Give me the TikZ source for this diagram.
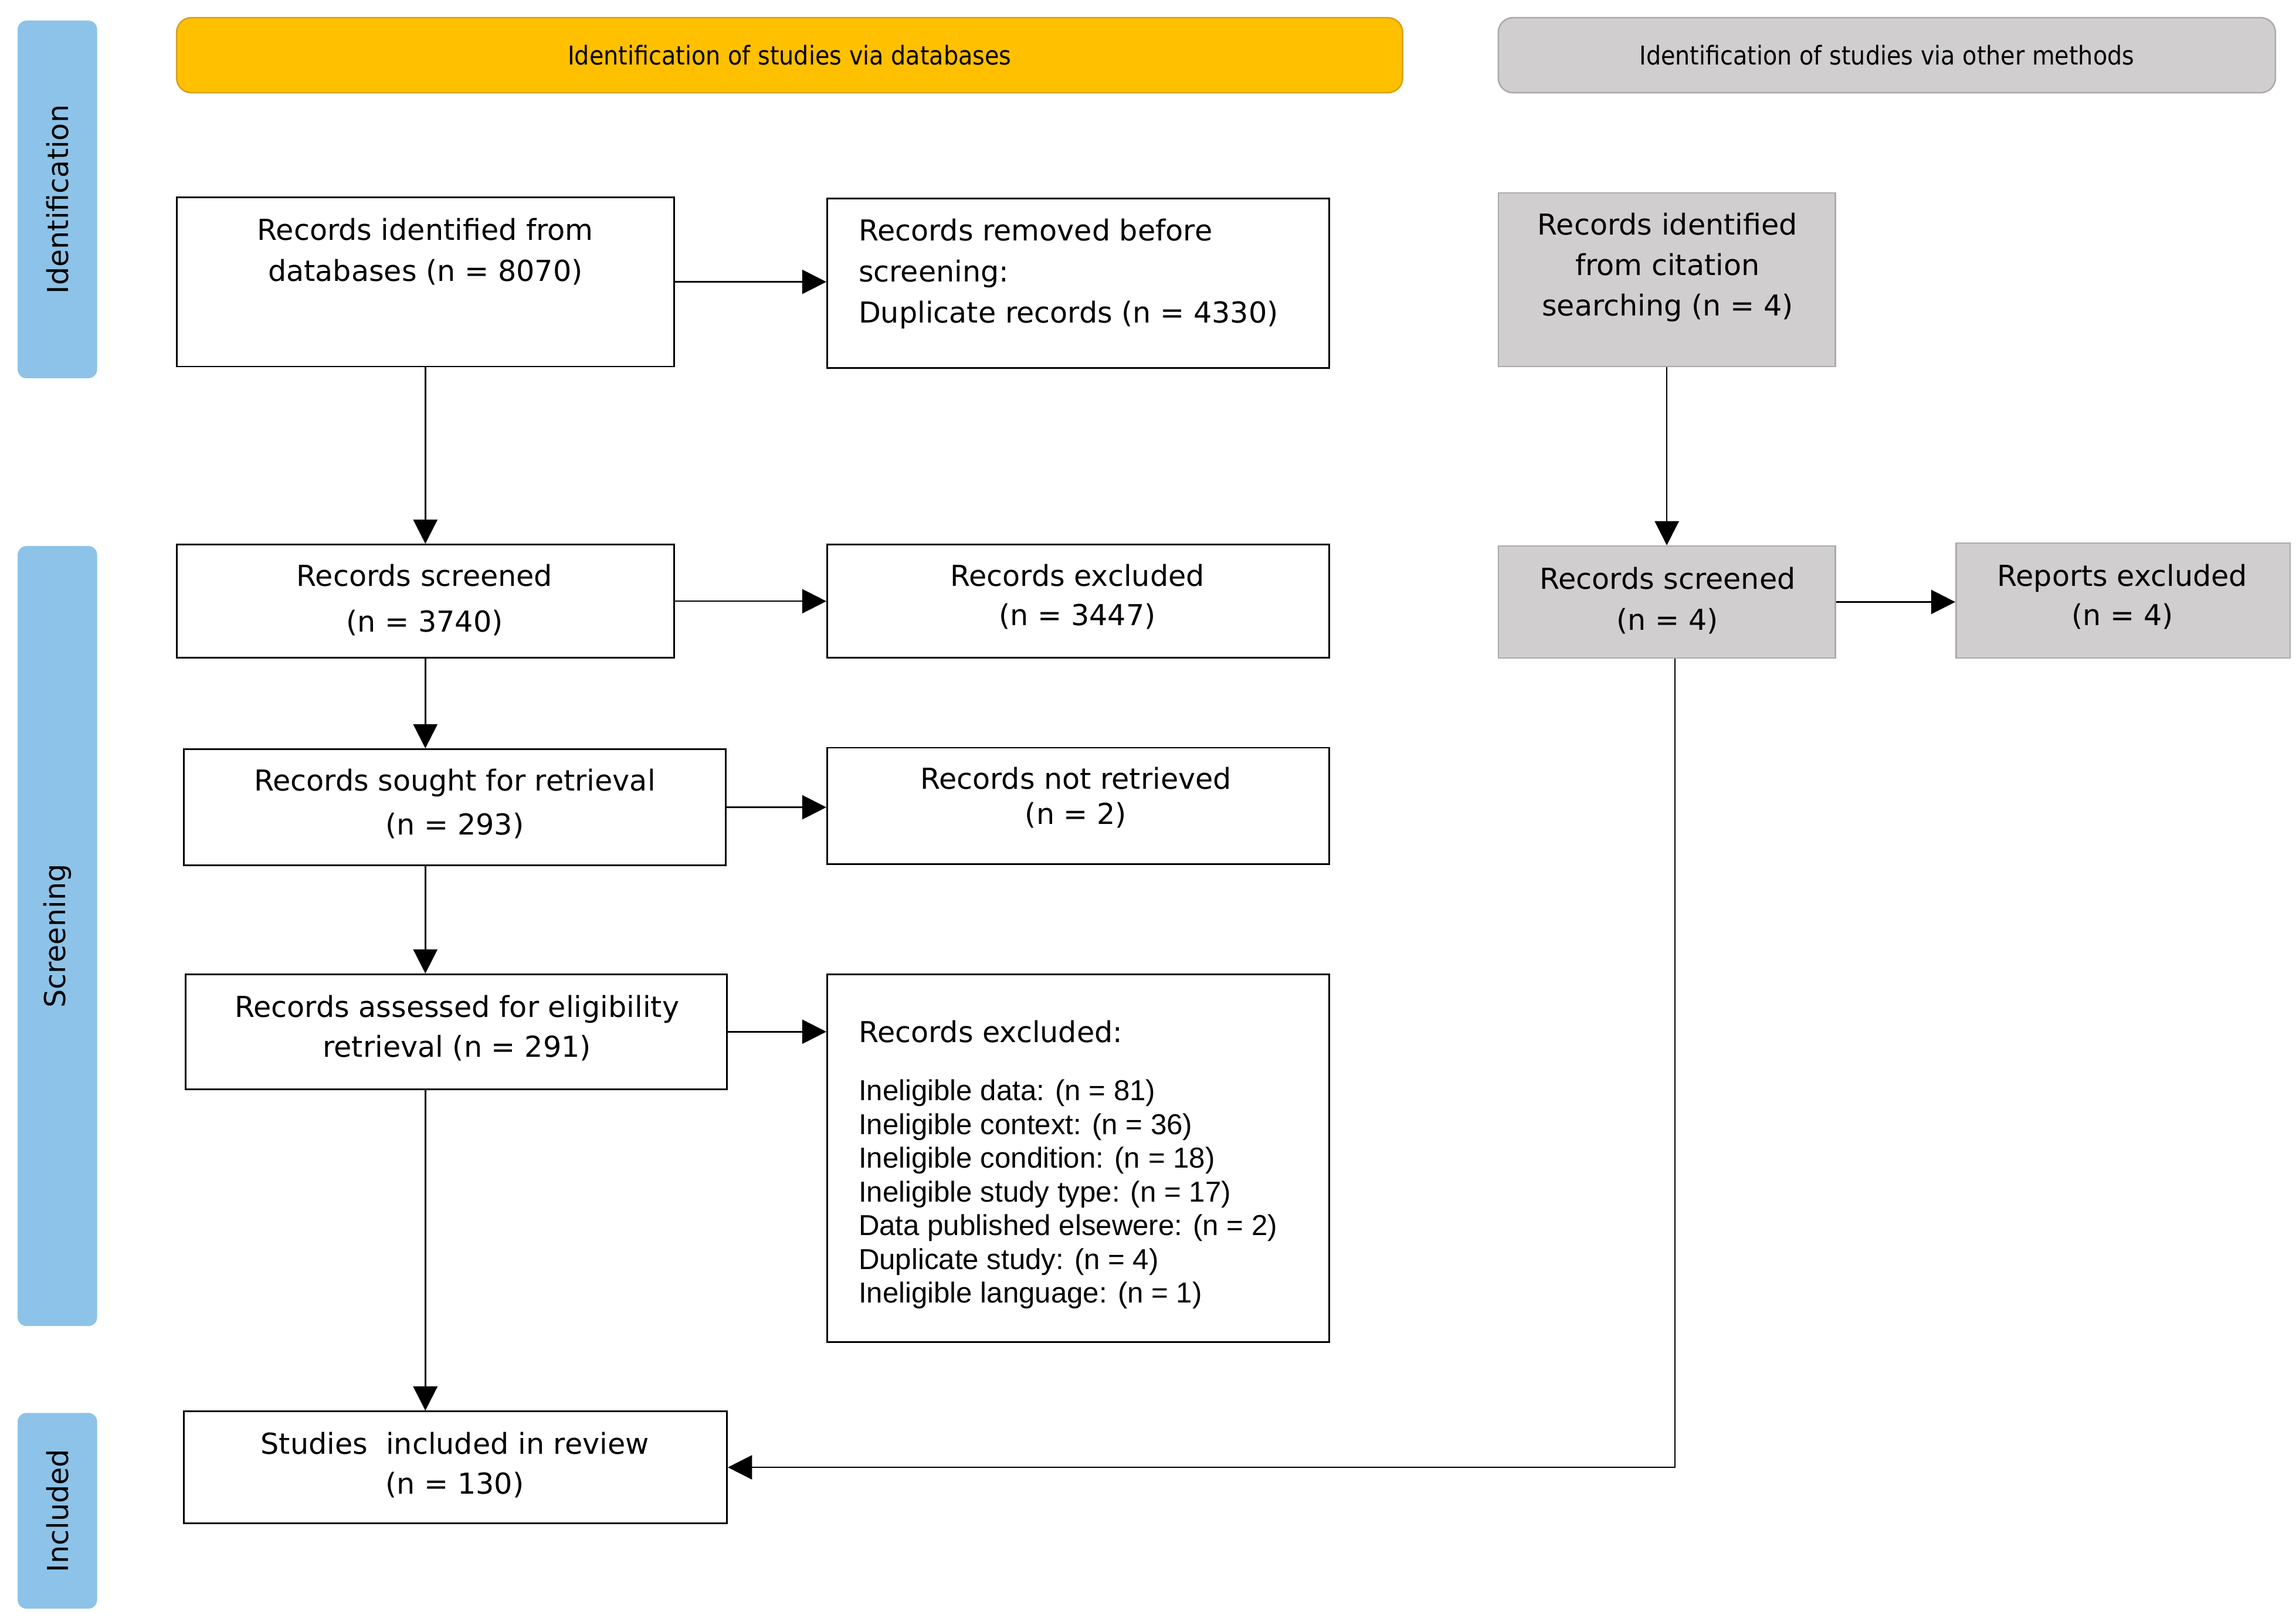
\documentclass[tikz,border=0pt]{standalone}
\usepackage{fontspec}
\setmainfont{DejaVu Sans}
\newfontfamily\arialfont{Liberation Sans}
\newfontfamily\hdrfont[FakeStretch=0.9]{DejaVu Sans}
\usetikzlibrary{fit,arrows.meta}
\definecolor{sideblue}{RGB}{141,195,232}
\definecolor{hdrorange}{RGB}{255,192,0}
\definecolor{hdrorangeline}{RGB}{214,160,30}
\definecolor{boxgray}{RGB}{208,206,206}
\definecolor{boxgrayline}{RGB}{170,170,170}
\begin{document}
\begin{tikzpicture}[x=0.5pt,y=-0.5pt,
  wbox/.style={draw=black, line width=0.55pt, fill=white, inner sep=0pt, rectangle},
  gbox/.style={draw=boxgrayline, line width=0.5pt, fill=boxgray, inner sep=0pt, rectangle},
  side/.style={fill=sideblue, rounded corners=3pt, inner sep=0pt, rectangle},
  hdrO/.style={fill=hdrorange, draw=hdrorangeline, line width=0.5pt, rounded corners=5pt, inner sep=0pt, rectangle},
  hdrG/.style={fill=boxgray, draw=boxgrayline, line width=0.5pt, rounded corners=5pt, inner sep=0pt, rectangle},
  txt/.style={inner sep=0pt, align=center, font=\fontsize{9.8pt}{#1}\selectfont},
  txt/.default=14pt,
  ltxt/.style={inner sep=0pt, align=left, anchor=west, font=\fontsize{9.8pt}{#1}\selectfont},
  ltxt/.default=14pt,
  htxt/.style={inner sep=0pt, font=\hdrfont\fontsize{8.8pt}{10pt}\selectfont},
  stxt/.style={inner sep=0pt, rotate=90, font=\fontsize{9.8pt}{11pt}\selectfont},
  arr/.style={draw=black, line width=0.5pt, -{Triangle[length=8.2pt,width=8.2pt]}},
]
\fill[white] (0,0) rectangle (1560,1099);
\useasboundingbox (0,0) rectangle (1560,1099);

% side bars
\node[side, fit={(12,14) (66,257)}] (s1) {};
\node[stxt] (s1t) at (s1.center) {Identification};
\node[side, fit={(12,371) (66,901)}] (s2) {};
\node[stxt] (s2t) at (s2.center) {Screening};
\node[side, fit={(12,960) (66,1093)}] (s3) {};
\node[stxt] (s3t) at (s3.center) {Included};

% headers
\node[hdrO, fit={(120,12) (953,63)}] (h1) {};
\node[htxt] (h1t) at (h1.center) {Identification of studies via databases};
\node[hdrG, fit={(1018,12) (1546,63)}] (h2) {};
\node[htxt] (h2t) at (h2.center) {Identification of studies via other methods};

% boxes (databases)
\node[wbox, fit={(120,134) (458,249)}] (A) {};
\node[txt] (At) at (289,171) {Records identified from\\databases (n = 8070)};
\node[wbox, fit={(562,135) (903,250)}] (B) {};
\node[ltxt] (Bt) at (583,186) {Records removed before\\screening:\\Duplicate records (n = 4330)};

\node[wbox, fit={(120,370) (458,447)}] (C) {};
\node[txt=15.5pt] (Ct) at (288.5,407.5) {Records screened\\(n = 3740)};
\node[wbox, fit={(562,370) (903,447)}] (D) {};
\node[txt=13.5pt] (Dt) at (732,405.5) {Records excluded\\(n = 3447)};

\node[wbox, fit={(125,509) (493,588)}] (E) {};
\node[txt=15pt] (Et) at (309,546) {Records sought for retrieval\\(n = 293)};
\node[wbox, fit={(562,508) (903,587)}] (F) {};
\node[txt=12pt] (Ft) at (731,542) {Records not retrieved\\(n = 2)};

\node[wbox, fit={(126,662) (494,740)}] (G) {};
\node[txt=13.5pt] (Gt) at (310.5,698.5) {Records assessed for eligibility\\retrieval (n = 291)};
\node[wbox, fit={(562,662) (903,912)}] (H) {};
\node[ltxt] (Ht) at (583,701) {Records excluded:};
\node[ltxt=11.45pt, font=\arialfont\fontsize{9.8pt}{11.45pt}\selectfont] (Hl) at (583,811.5) {Ineligible data: (n = 81)\\Ineligible context: (n = 36)\\Ineligible condition: (n = 18)\\Ineligible study type: (n = 17)\\Data published elsewere: (n = 2)\\Duplicate study: (n = 4)\\Ineligible language: (n = 1)};

\node[wbox, fit={(125,959) (494,1035)}] (I) {};
\node[txt=13.5pt] (It) at (309,995.5) {Studies\ \ included in review\\(n = 130)};

% boxes (other methods)
\node[gbox, fit={(1018,131) (1247,249)}] (J) {};
\node[txt=13.75pt] (Jt) at (1133,181.5) {Records identified\\from citation\\searching (n = 4)};
\node[gbox, fit={(1018,371) (1247,447)}] (K) {};
\node[txt] (Kt) at (1133,408) {Records screened\\(n = 4)};
\node[gbox, fit={(1329,369) (1556,447)}] (L) {};
\node[txt=13.5pt] (Lt) at (1442,405.5) {Reports excluded\\(n = 4)};

% connectors
\draw[arr] (A.east) -- (A.east -| B.west);
\draw[arr] (A.south) -- (C.north);
\draw[arr] (C.east) -- (C.east -| D.west);
\draw[arr] (C.south) -- (C.south |- E.north);
\draw[arr] (E.east) -- (E.east -| F.west);
\draw[arr] (C.south |- E.south) -- (C.south |- G.north);
\draw[arr] (G.east) -- (G.east -| H.west);
\draw[arr] (C.south |- G.south) -- (C.south |- I.north);
\draw[arr] (J.south) -- (K.north);
\draw[arr] (K.east) -- (K.east -| L.west);
\draw[arr] ([xshift=2.75pt]K.south) |- (I.east);
\end{tikzpicture}
\end{document}
